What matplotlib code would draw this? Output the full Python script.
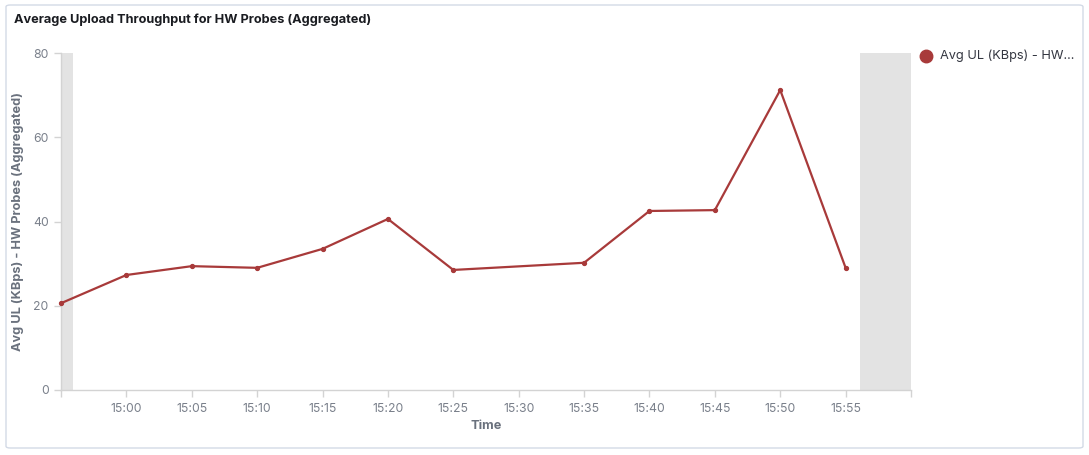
import datetime as dt
import matplotlib
matplotlib.use("Agg")
import matplotlib.pyplot as plt
from matplotlib.patches import FancyBboxPatch

plt.rcParams['font.family'] = ['Inter', 'DejaVu Sans']

# ---- data -------------------------------------------------------------
times = ["14:55", "15:00", "15:05", "15:10", "15:15", "15:20", "15:25",
         "15:35", "15:40", "15:45", "15:50", "15:55"]
avg_ul = [20.6, 27.3, 29.4, 29.0, 33.5, 40.6, 28.5,
          30.2, 42.5, 42.7, 71.2, 29.0]
series_label = "Avg UL (KBps) - HW..."
title = "Average Upload Throughput for HW Probes (Aggregated)"
y_label = "Avg UL (KBps) - HW Probes (Aggregated)"
x_label = "Time"

day = dt.date(2024, 1, 1)
def t(s):
    h, m = s.split(":")[:2]
    sec = int(s.split(":")[2]) if s.count(":") == 2 else 0
    return dt.datetime.combine(day, dt.time(int(h), int(m), sec))

x = [t(s) for s in times]
x_start, x_end = t("14:55"), t("16:00")
range_start, range_end = t("14:55:55"), t("15:56:05")

# ---- figure -----------------------------------------------------------
W, H = 1089, 455
fig = plt.figure(figsize=(W / 100, H / 100), dpi=100)
fig.patch.set_facecolor("white")

panel = FancyBboxPatch((6 / W, 7 / H), 1077 / W, 443 / H,
                       boxstyle="round,pad=0,rounding_size=0.004",
                       transform=fig.transFigure, facecolor="white",
                       edgecolor="#d3dae6", linewidth=1, zorder=-10)
fig.add_artist(panel)
fig.text(14 / W, 1 - 20 / H, title, fontsize=9.2, fontweight="bold",
         color="#1a1c21", va="center", ha="left")

ax = fig.add_axes([61 / W, 1 - 390 / H, 850 / W, 337 / H])
ax.patch.set_alpha(0)
line_color = "#a83a3a"

ax.axvspan(x_start, range_start, color="#e3e3e3", lw=0, zorder=0)
ax.axvspan(range_end, x_end, color="#e3e3e3", lw=0, zorder=0)
ax.plot(x, avg_ul, color=line_color, lw=1.6, marker="o", markersize=2.8,
        zorder=3, clip_on=False)

ax.set_xlim(x_start, x_end)
ax.set_ylim(0, 80)
ax.set_yticks([0, 20, 40, 60, 80])

ticks = [x_start + dt.timedelta(minutes=5 * i) for i in range(14)]
ax.set_xticks(ticks)
ax.set_xticklabels([""] + [tk.strftime("%H:%M") for tk in ticks[1:-1]] + [""])

for side in ("top", "right"):
    ax.spines[side].set_visible(False)
for side in ("left", "bottom"):
    ax.spines[side].set_color("#d3d3d3")
    ax.spines[side].set_linewidth(1)
ax.tick_params(colors="#d3d3d3", labelcolor="#7a808b", labelsize=8.8,
               length=5, width=1, pad=4)

ax.set_xlabel(x_label, fontsize=9.2, fontweight="bold", color="#6a717d",
              labelpad=4)
ax.set_ylabel(y_label, fontsize=9.2, fontweight="bold", color="#6a717d",
              labelpad=6)

# legend
fig.lines.append(plt.Line2D([926 / W], [1 - 56 / H], marker="o",
                            markersize=9, color=line_color,
                            transform=fig.transFigure))
fig.text(940 / W, 1 - 56 / H, series_label, fontsize=9.2, color="#343741",
         va="center", ha="left")

fig.savefig("out.png", dpi=100)
